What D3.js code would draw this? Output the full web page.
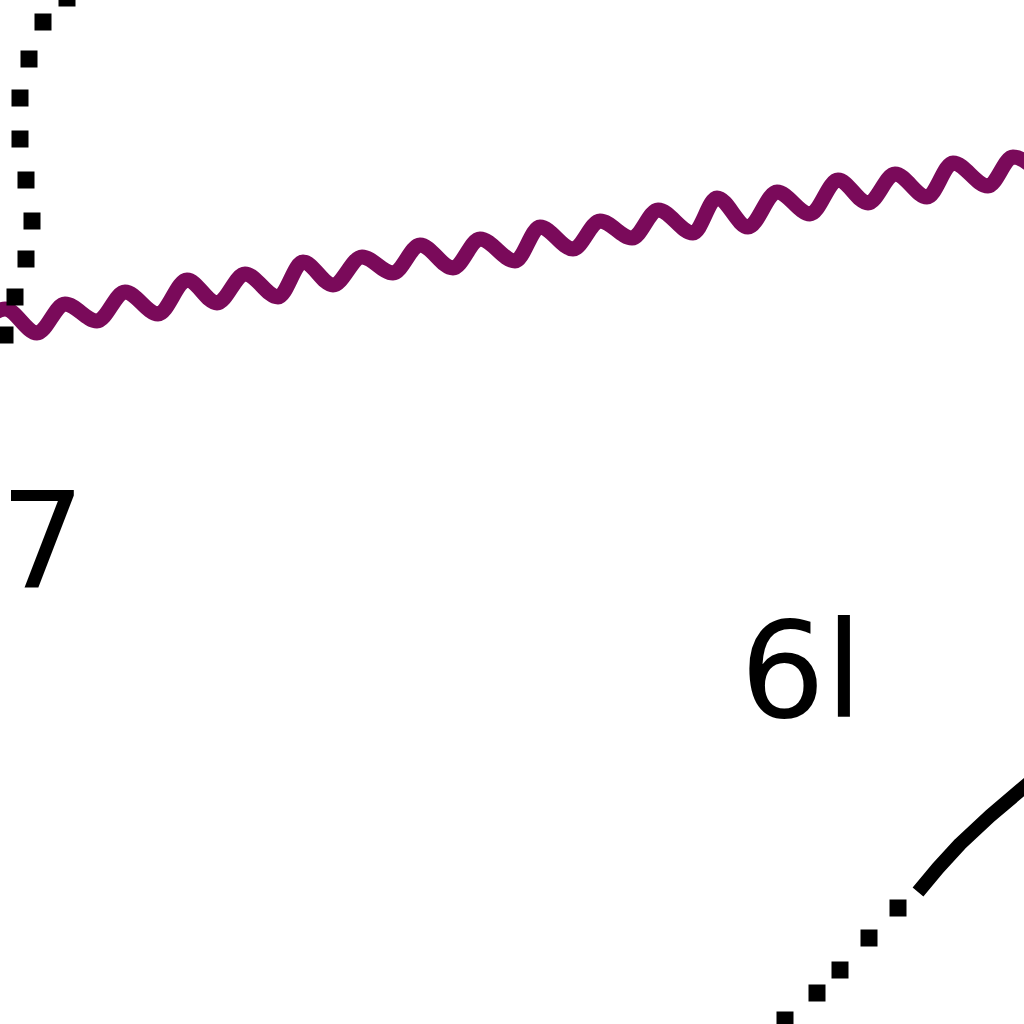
<!DOCTYPE html>
<html>
<head>
<meta charset="utf-8">
<script src="https://cdn.jsdelivr.net/npm/d3@7"></script>
<style>
html,body{margin:0;padding:0;background:#fff;overflow:hidden;}
svg{display:block;}
</style>
</head>
<body>
<script>
// ---- data (plot units) ----
const wavePeaksTroughs = [
  [-25,333],[5,309],[37,333],[65,304],[97,321],[125,292],[158,314],[187,280],[217,303],
  [245,274],[278,297],[303,262],[333,285],[362,257],[393,273],[420,245],[453,268],
  [480,239],[515,261],[540,227],[573,249],[600,221],[632,238],[658,210],[693,233],
  [717,198],[748,227],[777,192],[810,214],[838,180],[868,203],[895,174],[927,197],
  [953,163],[988,186],[1013,157],[1045,180]
];
const dottedTopLeft = [
  [67,-2],[43,22],[29,59],[20,98],[20,139],[26,180],[32,221],[26,259],[15,297],[5,335]
];
const solidBottomRight = [
  [918,892],[938,868],[960,844],[990,816],[1030,782]
];
const dottedBottomRight = [
  [898,908],[869,938],[840,970],[817,993],[785,1020]
];
const labels = [
  {text:"7", x:0, y:588},
  {text:"6l", x:740, y:717}
];

const W = 1024, H = 1024;
const x = d3.scaleLinear().domain([0,1024]).range([0,W]);
const y = d3.scaleLinear().domain([0,1024]).range([0,H]);

const svg = d3.select("body").append("svg")
  .attr("width", W).attr("height", H);

// purple wave
svg.append("path")
  .datum(wavePeaksTroughs)
  .attr("d", d3.line().x(d=>x(d[0])).y(d=>y(d[1])).curve(d3.curveMonotoneX))
  .attr("fill","none")
  .attr("stroke","#7a0a5a")
  .attr("stroke-width",15);

// solid black segment
svg.append("path")
  .datum(solidBottomRight)
  .attr("d", d3.line().x(d=>x(d[0])).y(d=>y(d[1])))
  .attr("fill","none")
  .attr("stroke","#000")
  .attr("stroke-width",14)
  .attr("stroke-linejoin","round");

// dotted markers
const dotSize = 17;
svg.selectAll("rect.dot")
  .data(dottedTopLeft.concat(dottedBottomRight))
  .enter().append("rect")
  .attr("class","dot")
  .attr("x", d=>x(d[0]) - dotSize/2)
  .attr("y", d=>y(d[1]) - dotSize/2)
  .attr("width", dotSize)
  .attr("height", dotSize)
  .attr("fill","#000");

// labels
svg.selectAll("text.lab")
  .data(labels)
  .enter().append("text")
  .attr("class","lab")
  .attr("x", d=>x(d.x))
  .attr("y", d=>y(d.y))
  .attr("font-family","DejaVu Sans")
  .attr("font-size",134)
  .attr("fill","#000")
  .text(d=>d.text);
</script>
</body>
</html>
